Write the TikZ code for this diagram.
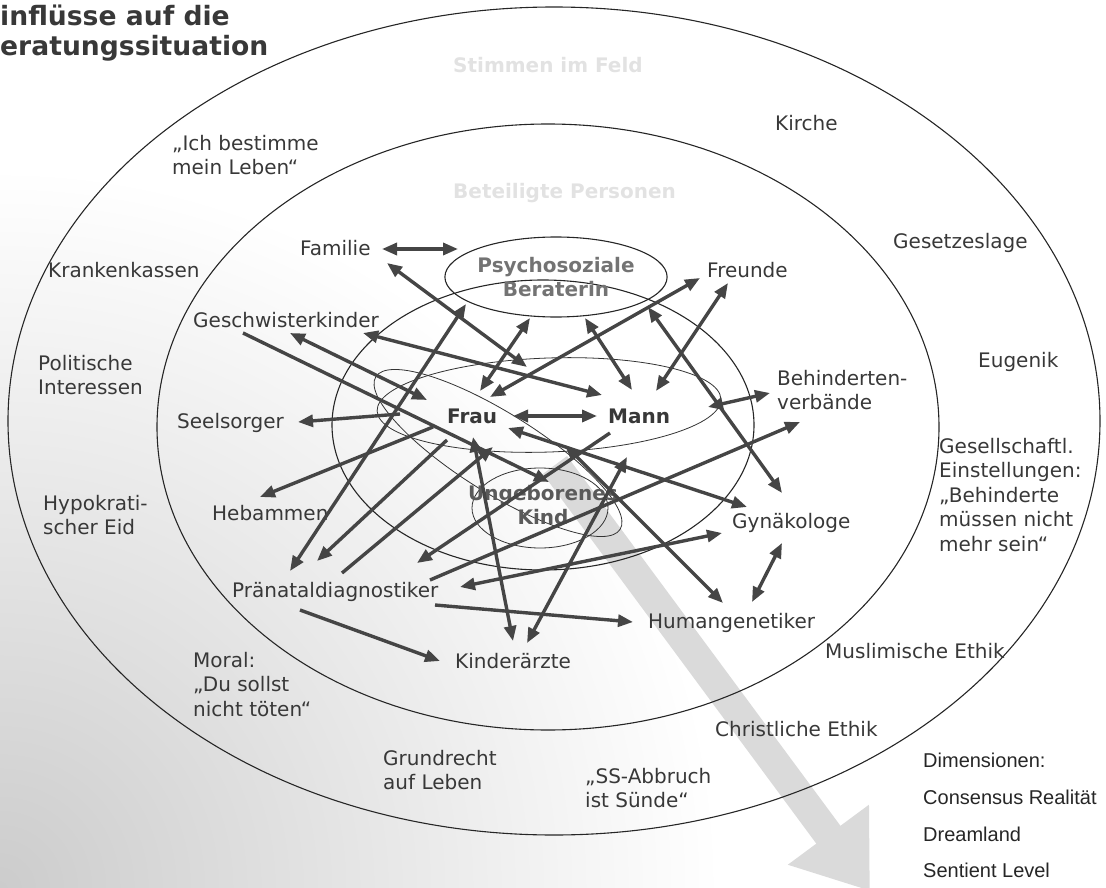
\documentclass[tikz,border=0pt]{standalone}
\usepackage{fontspec}
\setmainfont{DejaVu Sans}
\newfontfamily\dimfont{Liberation Sans}
\usetikzlibrary{arrows.meta,shapes.geometric}

\definecolor{ink}{HTML}{383838}
\definecolor{arrowink}{HTML}{454545}
\definecolor{coreink}{HTML}{5A5A5A}
\definecolor{ghost}{HTML}{E2E2E2}
\definecolor{band}{HTML}{DADADA}

\begin{document}
\begin{tikzpicture}[
    x=1pt, y=-1pt,
    >={Triangle[length=15pt,width=12pt]},
    lbl/.style={inner sep=0pt, text=ink, anchor=base west,
        font=\fontsize{20}{24.5}\selectfont},
    multi/.style={lbl, align=left, anchor=north west},
    person/.style={lbl, font=\fontsize{20}{24.5}\selectfont\bfseries},
    ringname/.style={lbl, text=ghost, font=\fontsize{20}{24.5}\selectfont\bfseries},
    ring/.style={draw=black!85, line width=1.1pt},
    venn/.style={draw=black!80, line width=0.8pt},
    oneway/.style={arrowink, line width=3.4pt, ->},
    twoway/.style={arrowink, line width=3.4pt, <->}
]
\useasboundingbox (0,0) rectangle (1106,888);

% --- paper, greyer towards the lower left corner ---
\begin{scope}
    \clip (0,0) rectangle (1106,888);
    \shade[inner color=black!20, outer color=white] (0,888) circle [radius=720];
\end{scope}

% --- grey dimension arrow behind everything ---
\draw[band, line width=30pt, -{Triangle[length=70pt,width=96pt]}] (555,465) -- (870,891);

% --- rings ---
\draw[ring] (554,421) ellipse [x radius=546, y radius=414];
\draw[ring] (548,427) ellipse [x radius=391, y radius=303];
\draw[ring] (543,425) ellipse [x radius=211, y radius=145];

% --- overlapping loops round Frau, Mann and Kind ---
\draw[venn, rotate around={2:(549,405)}] (549,405) ellipse [x radius=172, y radius=47];
\draw[venn, rotate around={-32:(498,453)}] (498,453) ellipse [x radius=144, y radius=40];
\draw[venn] (540,508) ellipse [x radius=68, y radius=40];

% --- title ---
\node[multi, font=\fontsize{26.6}{30}\selectfont\bfseries] (titel) at (0,5)
    {inflüsse auf die\\eratungssituation};

% --- ring names ---
\node[ringname] (feld)     at (453,73)  {Stimmen im Feld};
\node[ringname] (personen) at (453,198) {Beteiligte Personen};

% --- voices in the field (outer ring) ---
\node[lbl]   (kirche)      at (775,131) {Kirche};
\node[multi] (selbst)      at (172,135) {„Ich bestimme\\mein Leben“};
\node[lbl]   (gesetz)      at (893,248) {Gesetzeslage};
\node[lbl]   (kassen)      at (48,277)  {Krankenkassen};
\node[multi] (politik)     at (38,355)  {Politische\\Interessen};
\node[lbl]   (eugenik)     at (978,367) {Eugenik};
\node[multi] (einstellung) at (939,438) {Gesellschaftl.\\Einstellungen:\\„Behinderte\\müssen nicht\\mehr sein“};
\node[multi] (eid)         at (43,495)  {Hypokrati-\\scher Eid};
\node[multi] (moral)       at (193,652) {Moral:\\„Du sollst\\nicht töten“};
\node[lbl]   (muslim)      at (825,658) {Muslimische Ethik};
\node[lbl]   (christ)      at (715,736) {Christliche Ethik};
\node[multi] (grundrecht)  at (383,750) {Grundrecht\\auf Leben};
\node[multi] (suende)      at (585,768) {„SS-Abbruch\\ist Sünde“};

% --- persons involved (middle ring) ---
\node[lbl]   (familie)    at (300,255) {Familie};
\node[lbl]   (freunde)    at (707,277) {Freunde};
\node[lbl]   (geschw)     at (193,327) {Geschwisterkinder};
\node[multi] (verbaende)  at (777,370) {Behinderten-\\verbände};
\node[lbl]   (seelsorger) at (177,428) {Seelsorger};
\node[lbl]   (hebammen)   at (212,520) {Hebammen};
\node[lbl]   (gyn)        at (732,528) {Gynäkologe};
\node[lbl]   (praenatal)  at (232,597) {Pränataldiagnostiker};
\node[lbl]   (human)      at (648,628) {Humangenetiker};
\node[lbl]   (kinder)     at (455,668) {Kinderärzte};

% --- core ---
\node[ellipse, draw=black!85, line width=1.1pt, inner sep=0pt, minimum width=222pt,
      minimum height=80pt, align=center, text=coreink!85,
      font=\fontsize{20}{24.5}\selectfont\bfseries] (berater) at (556,277)
      {Psychosoziale\\Beraterin};
\node[person] (frau) at (447,423) {Frau};
\node[person] (mann) at (608,423) {Mann};
\node[person, text=coreink, align=center, anchor=north] (kind) at (543,485) {Ungeborenes\\Kind};

% --- links between the persons ---
\draw[twoway] ([xshift=82pt,yshift=6pt]familie.base west)  -- ([xshift=-98pt,yshift=28pt]berater.center);
\draw[twoway] ([xshift=87pt,yshift=-8pt]familie.base west) -- ([xshift=80pt,yshift=56pt]frau.base west);
\draw[twoway] ([xshift=97pt,yshift=-6pt]geschw.base west)  -- ([xshift=-20pt,yshift=23pt]frau.base west);
\draw[twoway] ([xshift=170pt,yshift=-6pt]geschw.base west) -- ([xshift=-6pt,yshift=28pt]mann.base west);
\draw[oneway] ([xshift=50pt,yshift=-6pt]geschw.base west)  -- ([xshift=6pt,yshift=3pt]kind.north);
\draw[twoway] ([xshift=-26pt,yshift=-41pt]berater.center)  -- ([xshift=33pt,yshift=32pt]frau.base west);
\draw[twoway] ([xshift=29pt,yshift=-41pt]berater.center)   -- ([xshift=24pt,yshift=33pt]mann.base west);
\draw[twoway] ([xshift=66pt,yshift=7pt]frau.base west)     -- ([xshift=-11pt,yshift=7pt]mann.base west);
\draw[twoway] ([xshift=43pt,yshift=26pt]frau.base west)    -- ([xshift=-7pt,yshift=-1pt]freunde.base west);
\draw[twoway] ([xshift=48pt,yshift=32pt]mann.base west)    -- ([xshift=21pt,yshift=-6pt]freunde.base west);
\draw[twoway] ([xshift=92pt,yshift=-30pt]berater.center)   -- ([xshift=50pt,yshift=35pt]gyn.base west);
\draw[twoway] ([xshift=100pt,yshift=16pt]mann.base west)   -- ([xshift=-7pt,yshift=-23pt]verbaende.north west);
\draw[oneway] ([xshift=-47pt,yshift=9pt]frau.base west)    -- ([xshift=121pt,yshift=6pt]seelsorger.base west);
\draw[oneway] ([xshift=-14pt,yshift=-4pt]frau.base west)   -- ([xshift=48pt,yshift=23pt]hebammen.base west);
\draw[twoway] ([xshift=58pt,yshift=26pt]praenatal.base west) -- ([xshift=-90pt,yshift=-27pt]berater.center);
\draw[oneway] ([yshift=-17pt]frau.base west)               -- ([xshift=85pt,yshift=36pt]praenatal.base west);
\draw[oneway] ([xshift=110pt,yshift=24pt]praenatal.base west) -- ([xshift=46pt,yshift=-24pt]frau.base west);
\draw[twoway] ([xshift=26pt,yshift=-14pt]frau.base west)   -- ([xshift=58pt,yshift=27pt]kinder.base west);
\draw[oneway] ([xshift=2pt,yshift=-10pt]mann.base west)    -- ([xshift=185pt,yshift=34pt]praenatal.base west);
\draw[twoway] ([xshift=228pt,yshift=10pt]praenatal.base west) -- ([xshift=-10pt,yshift=-5pt]gyn.base west);
\draw[oneway] ([xshift=198pt,yshift=17pt]praenatal.base west) -- ([xshift=23pt,yshift=-52pt]verbaende.north west);
\draw[oneway] ([xshift=203pt,yshift=-8pt]praenatal.base west) -- ([xshift=-15pt,yshift=6pt]human.base west);
\draw[oneway] ([xshift=68pt,yshift=-13pt]praenatal.base west) -- ([xshift=-15pt,yshift=7pt]kinder.base west);
\draw[twoway] ([xshift=72pt,yshift=25pt]kinder.base west)  -- ([xshift=19pt,yshift=-34pt]mann.base west);
\draw[twoway] ([xshift=61pt,yshift=-5pt]frau.base west)    -- ([xshift=15pt,yshift=21pt]gyn.base west);
\draw[twoway] ([xshift=-43pt,yshift=-22pt]mann.base west)  -- ([xshift=75pt,yshift=25pt]human.base west);
\draw[twoway] ([xshift=50pt,yshift=-15pt]gyn.base west)    -- ([xshift=104pt,yshift=26pt]human.base west);

% --- dimensions ---
\node[multi, font=\dimfont\fontsize{20}{36.7}\selectfont, text=black!85] (dimensionen) at (923,753)
    {Dimensionen:\\Consensus Realität\\Dreamland\\Sentient Level};

\end{tikzpicture}
\end{document}
